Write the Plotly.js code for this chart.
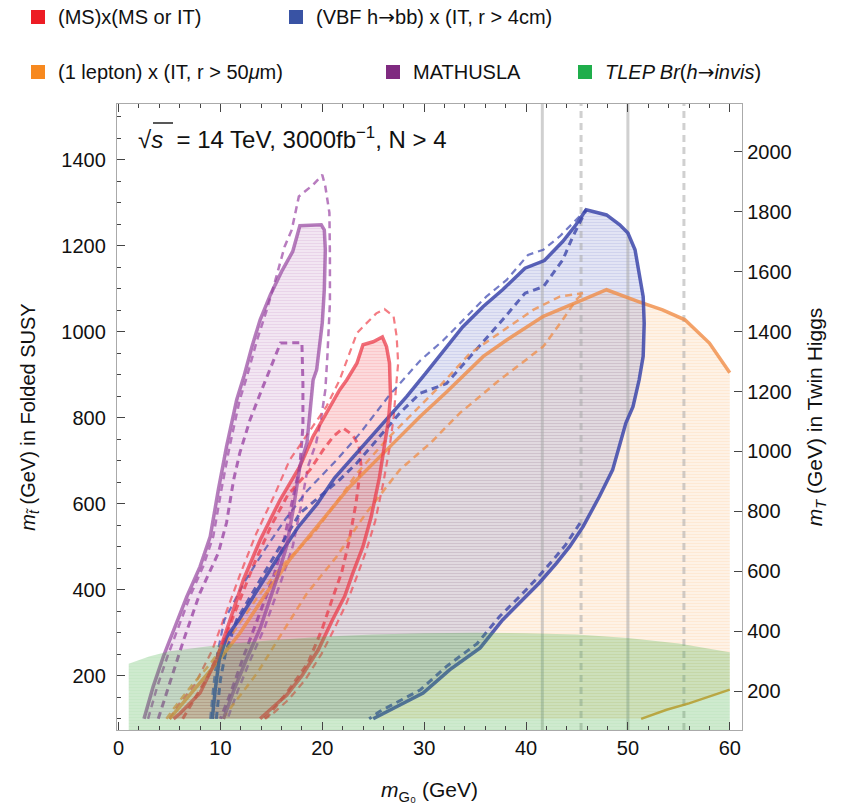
<!DOCTYPE html>
<html><head><meta charset="utf-8">
<script src="https://cdn.plot.ly/plotly-3.0.1.min.js"></script>
<style>body{margin:0;background:#fff}#c{width:842px;height:805px}</style>
</head><body><div id="c"></div>
<script>
// ---------------- data ----------------
// MATHUSLA (purple)
const purpleSolidX = [2.5,3.4,4.4,5.6,6.7,8.0,9.0,9.8,10.6,11.6,12.3,13.1,13.9,14.9,16.0,17.1,17.5,17.8,19.9,20.2,20.3,20.2,20.0,19.8,19.45,19.1,18.8,18.5,17.8,17.2,16.5,15.5,13.9,12.5,11.3,10.3];
const purpleSolidY = [100,175,245,315,384,454,524,633,733,842,896,966,1028,1086,1140,1187,1222,1247,1249,1237,1191,1098,1021,974,912,888,812,742,687,594,501,423,310,235,165,100];
const purpleOuterX = [2.9,3.8,4.8,5.9,7.0,8.3,9.3,10.1,10.9,11.9,12.6,13.6,14.55,15.5,16.3,17.0,17.7,19.1,20.0,20.3,20.7,20.75,20.75,20.5,20.3,19.9,19.4,18.6,17.9,17.1,16.0,14.3,12.9,11.7,10.7];
const purpleOuterY = [100,175,245,315,384,454,524,633,733,842,896,981,1051,1129,1198,1237,1315,1342,1365,1338,1277,1175,1067,943,865,800,742,687,594,501,423,310,235,165,100];
const purpleInnerX = [3.9,5.1,6.4,8.0,9.8,10.6,11.3,11.9,12.9,14.05,15.0,15.9,18.0,18.1,18.1,17.8,17.0,16.2,15.2,13.6,12.2,11.0,10.0];
const purpleInnerY = [100,191,284,393,486,556,656,718,795,865,919,974,975,880,780,687,600,510,430,330,240,160,100];

// (MS)x(MS or IT) (red)
const redSolidX = [5.4,6.05,8.0,9.6,10.95,12.25,13.9,15.85,17.8,19.1,20.4,21.7,22.4,23.4,24.0,25.0,25.9,26.3,26.6,26.7,26.5,26.1,25.6,24.8,24.0,23.0,22.2,21.0,19.6,18.0,16.5,15.2,13.9];
const redSolidY = [100,113,160,237,330,423,516,609,687,757,811,865,888,927,970,977,988,966,927,850,795,733,660,570,501,439,385,330,260,200,155,128,100];
const redOuterX = [5.0,5.8,7.5,9.2,10.6,12.0,13.5,15.3,16.8,19.1,20.4,21.7,22.7,23.4,24.0,25.3,26.1,27.0,27.3,27.45,27.3,27.0,26.6,26.0,25.2,24.3,23.3,22.4,21.2,19.9,18.3,16.7,15.3,14.4];
const redOuterY = [100,130,180,260,350,440,530,620,702,780,826,888,950,997,1012,1043,1053,1036,989,927,888,800,730,650,560,490,425,370,310,250,190,145,115,100];
const redInnerX = [6.3,7.3,8.8,10.3,11.8,13.3,15.0,16.6,18.8,20.1,21.1,22.05,23.0,23.6,23.8,23.3,22.6,21.9,21.0,20.0,18.6,16.5,14.8,14.2];
const redInnerY = [100,140,200,280,370,460,550,620,679,726,757,776,760,735,690,600,510,440,380,310,230,160,110,100];

// (VBF h->bb) x (IT, r > 4cm) (blue)
const blueSolidX = [9.2,9.5,9.9,10.6,11.8,13.6,15.5,17.6,19.5,21.2,23.4,26.3,28.3,30.2,31.9,33.8,35.8,37.7,39.9,41.8,43.6,44.9,45.9,47.9,49.2,50.0,50.7,51.1,51.5,51.6,51.5,51.1,50.5,49.8,48.5,47.2,45.6,44.3,43.0,41.3,39.7,37.7,35.5,32.5,29.9,27.6,26.0,25.0];
const blueSolidY = [100,170,240,290,330,400,470,545,600,660,718,795,850,905,955,1012,1059,1098,1148,1166,1210,1249,1284,1272,1249,1230,1191,1136,1082,1020,943,888,826,788,679,617,547,501,462,416,377,330,265,214,160,131,113,100];
const blueOuterX = [9.0,9.3,9.7,10.4,12.4,14.4,16.4,18.5,21.4,23.7,26.6,29.6,31.9,34.2,36.1,38.1,40.2,41.7,43.3,44.6,45.6,45.9];
const blueOuterY = [100,175,253,330,420,495,565,630,702,764,853,933,981,1036,1082,1121,1179,1191,1222,1253,1276,1284];
const blueInnerX = [9.6,10.0,10.5,11.6,13.9,15.85,17.8,21.7,23.4,25.65,27.6,29.6,32.2,34.8,37.7,39.9,41.7,43.6,44.6,45.4,45.9];
const blueInnerY = [100,191,253,330,423,501,578,656,695,757,811,857,880,950,1028,1090,1105,1167,1222,1260,1284];
const blueLowX = [45.3,43.9,42.6,41.0,39.4,37.4,35.2,32.2,29.6,27.3,25.7,24.6];
const blueLowY = [555,505,468,425,385,338,275,222,167,138,118,100];

// (1 lepton) x (IT, r > 50um) (orange)
const orangeLineX = [5.0,6.05,7.7,9.6,11.9,14.5,16.8,19.45,22.7,26.0,29.6,32.2,35.8,38.1,41.7,45.6,47.9,51.1,53.4,55.6,58.0,60.0];
const orangeLineY = [100,129,175,229,299,392,470,547,640,718,803,860,943,981,1036,1075,1098,1070,1051,1028,974,905];
const orangeBottomX = [60.0,58.0,56.0,53.8,51.3];
const orangeBottomY = [168,152,136,121,100];
const orangeUpperX = [4.7,5.6,7.1,8.9,11.1,13.7,16.0,19.1,22.05,23.4,26.3,29.25,31.5,34.5,37.4,40.7,43.3,45.6];
const orangeUpperY = [100,130,175,225,295,385,455,530,625,671,749,819,873,950,997,1051,1082,1090];
const orangeLowerX = [10.3,10.6,11.6,13.6,15.85,18.5,21.4,24.2,27.6,30.6,33.5,37.4,41.7,43.6,44.9,45.6];
const orangeLowerY = [100,113,144,206,292,392,477,575,679,741,811,888,966,1028,1074,1090];

// TLEP Br(h->invis) (green), upper edge; band reaches the bottom of the frame
const greenTopX = [1,3,5,10,15,20,25,30,35,40,45,50,55,60];
const greenTopY = [228,245,257,272,283,291,296,299,300,299,296,288,275,255];

// vertical reference lines
const vlineX = [41.6,45.4,50.0,55.5];
const vlineDash = ['solid','dash','solid','dash'];

// legend
const ARROW = '<span style="font-family:DejaVu Sans">→</span>';
const legendLabels = ['(MS)x(MS or IT)','(VBF h' + ARROW + 'bb) x (IT, r > 4cm)','(1 lepton) x (IT, r > 50<i>μ</i>m)','MATHUSLA','<i>TLEP Br</i>(<i>h</i>' + ARROW + '<i>invis</i>)'];
const legendColors = ['#ed1c24','#3953a4','#f7891f','#7f2a80','#1fae4b'];

// ---------------- drawing ----------------
const YMIN = 74, YMAX = 1530;
const traces = [];
function fillPoly(x, y, color, fg) {
  traces.push({x: x, y: y, mode: 'lines', fill: 'toself', fillcolor: color, line: {width: 0}, hoverinfo: 'skip',
    fillpattern: {shape: '-', bgcolor: color, fgcolor: fg, size: 3, solidity: 0.3}});
}
function line(x, y, color, w, dash) {
  traces.push({x: x, y: y, mode: 'lines', line: {color: color, width: w, dash: dash || 'solid'}, hoverinfo: 'skip'});
}
// fills
fillPoly(orangeLineX.concat(orangeBottomX), orangeLineY.concat(orangeBottomY), 'rgba(250,150,60,0.13)', 'rgba(250,150,60,0.12)');
fillPoly(blueSolidX, blueSolidY, 'rgba(60,70,180,0.15)', 'rgba(60,70,180,0.12)');
fillPoly(redSolidX, redSolidY, 'rgba(240,50,60,0.18)', 'rgba(240,50,60,0.12)');
fillPoly(purpleSolidX, purpleSolidY, 'rgba(150,60,150,0.13)', 'rgba(150,60,150,0.12)');
// vertical lines
vlineX.forEach((v, i) => line([v, v], [YMIN, YMAX], 'rgba(170,170,170,0.55)', 3, vlineDash[i] === 'dash' ? '7px,5px' : 'solid'));
// dashed contours
const DS = '7px,5px';
line(purpleOuterX, purpleOuterY, 'rgba(160,80,170,0.75)', 2.5, DS);
line(purpleInnerX, purpleInnerY, 'rgba(150,60,160,0.75)', 3, DS);
line(redOuterX, redOuterY, 'rgba(240,80,90,0.75)', 2.2, DS);
line(redInnerX, redInnerY, 'rgba(235,60,75,0.75)', 3, DS);
line(blueOuterX, blueOuterY, 'rgba(70,80,180,0.75)', 2.2, DS);
line(blueInnerX, blueInnerY, 'rgba(60,70,170,0.8)', 3, DS);
line(blueLowX, blueLowY, 'rgba(60,70,170,0.8)', 3, DS);
line(orangeUpperX, orangeUpperY, 'rgba(240,140,70,0.75)', 2.5, DS);
line(orangeLowerX, orangeLowerY, 'rgba(240,140,70,0.75)', 2.5, DS);
// solid contours
line(orangeLineX, orangeLineY, 'rgba(240,140,70,0.8)', 3.5);
line(orangeBottomX, orangeBottomY, 'rgba(225,150,40,0.85)', 2.5);
line(blueSolidX, blueSolidY, 'rgba(60,70,170,0.85)', 3.5);
line(redSolidX, redSolidY, 'rgba(235,60,75,0.75)', 3.5);
line(purpleSolidX, purpleSolidY, 'rgba(150,70,160,0.7)', 3.5);
// green band drawn on top (it tints the contours beneath it, as in the reference)
fillPoly([greenTopX[0]].concat(greenTopX, [greenTopX[greenTopX.length-1]]),
         [YMIN].concat(greenTopY, [YMIN]), 'rgba(60,170,60,0.25)', 'rgba(60,170,60,0.05)');
// right axis anchor
traces.push({x: [30], y: [1000], yaxis: 'y2', mode: 'markers', marker: {opacity: 0}, hoverinfo: 'skip'});

// pixel -> paper helpers for legend / label placement
const L = 117, R = 742, T = 104, B = 730;
const px = v => (v - L) / (R - L);
const py = v => (B - v) / (B - T);

const FONT = 'Liberation Sans, Arial, sans-serif';
const shapes = [], annotations = [];
const legPos = [[31, 17], [289, 17], [31, 72], [386, 72], [578, 72]];
legendLabels.forEach((t, i) => {
  const [x0, yc] = legPos[i];
  shapes.push({type: 'rect', xref: 'paper', yref: 'paper', x0: px(x0), x1: px(x0 + 14), y0: py(yc + 7), y1: py(yc - 7),
    fillcolor: legendColors[i], line: {width: 0}});
  annotations.push({xref: 'paper', yref: 'paper', x: px(x0 + 25), y: py(yc), xanchor: 'left', yanchor: 'middle',
    text: t, showarrow: false, font: {family: FONT, size: 20, color: '#111'}});
});
annotations.push({xref: 'paper', yref: 'paper', x: px(136), y: py(138), xanchor: 'left', yanchor: 'middle', showarrow: false,
  text: '√<i>s</i>  = 14 TeV, 3000fb<sup>−1</sup>, N > 4', font: {family: FONT, size: 24, color: '#111'}});
// overbar of the square root
shapes.push({type: 'line', xref: 'paper', yref: 'paper', x0: px(153), x1: px(173), y0: py(123), y1: py(123), line: {color: '#111', width: 1.4}});

const layout = {
  width: 842, height: 805,
  margin: {l: L, r: 842 - R, t: T, b: 805 - B},
  paper_bgcolor: '#fff', plot_bgcolor: '#fff', showlegend: false,
  font: {family: FONT, size: 20, color: '#111'},
  xaxis: {range: [-0.15, 61.2], tickvals: [0,10,20,30,40,50,60], ticks: 'inside', ticklen: 8, tickcolor: '#444',
    minor: {dtick: 2, tick0: 0, ticks: 'inside', ticklen: 4, tickcolor: '#444'},
    showline: true, linecolor: '#aaa', linewidth: 1.2, mirror: 'ticks', showgrid: false, zeroline: false,
    tickfont: {size: 20}, title: {text: '<i>m</i><sub>G₀</sub> (GeV)', font: {size: 21}, standoff: 24}},
  yaxis: {range: [YMIN, YMAX], tick0: 0, dtick: 200, ticks: 'inside', ticklen: 8, tickcolor: '#444',
    minor: {dtick: 50, tick0: 0, ticks: 'inside', ticklen: 4, tickcolor: '#444'},
    showline: true, linecolor: '#aaa', linewidth: 1.2, mirror: false, showgrid: false, zeroline: false,
    ticklabelstandoff: 6,
    tickfont: {size: 20}, title: {text: '<i>m</i><sub><i>t̃</i></sub> (GeV) in Folded SUSY', font: {size: 20}, standoff: 20}},
  yaxis2: {overlaying: 'y', side: 'right', range: [70, 2160], tick0: 0, dtick: 200, ticks: 'inside', ticklen: 8, tickcolor: '#444',
    showline: true, linecolor: '#aaa', linewidth: 1.2, showgrid: false, zeroline: false,
    tickfont: {size: 20}, title: {text: '<i>m</i><sub><i>T</i></sub> (GeV) in Twin Higgs', font: {size: 21}, standoff: 16}},
  shapes: shapes, annotations: annotations
};
Plotly.newPlot('c', traces, layout, {displayModeBar: false, staticPlot: true});
</script></body></html>
